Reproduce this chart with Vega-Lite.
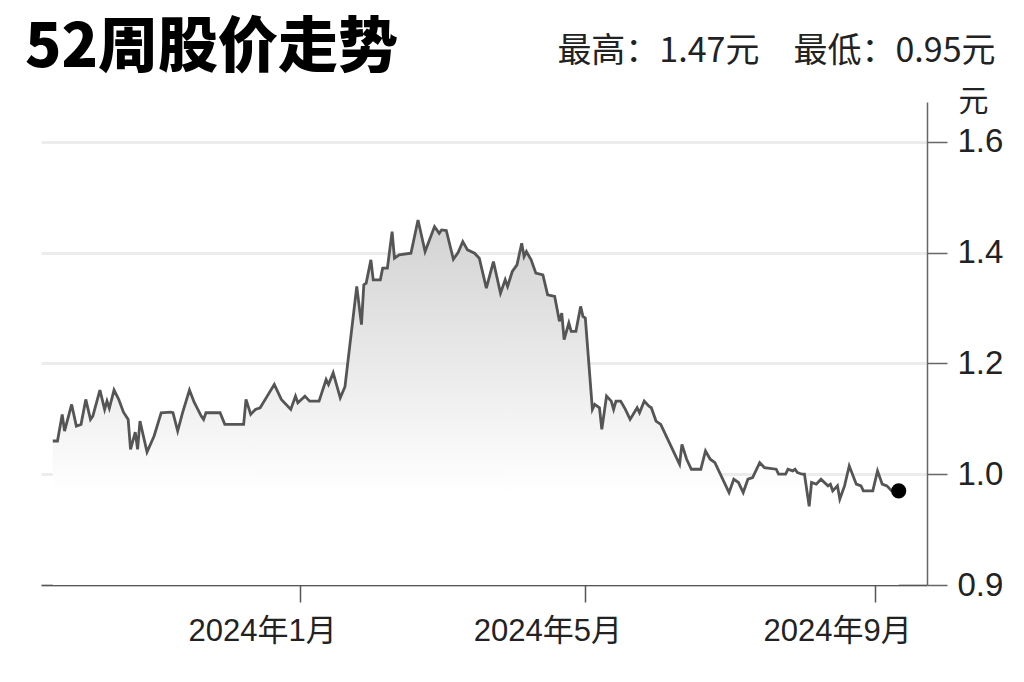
{
  "$schema": "https://vega.github.io/schema/vega-lite/v6.json",
  "width": 886,
  "height": 483,
  "autosize": {"type": "none"},
  "padding": {"left": 41, "top": 102, "right": 97, "bottom": 97},
  "background": "#ffffff",
  "title": {
    "text": "52周股价走势",
    "anchor": "start",
    "frame": "group",
    "font": "Noto Sans CJK SC",
    "fontSize": 60,
    "fontWeight": 900,
    "color": "#000000",
    "dx": -16,
    "dy": 93,
    "baseline": "alphabetic",
    "offset": 0
  },
  "config": {
    "view": {"stroke": null},
    "font": "Liberation Sans, Noto Sans CJK SC"
  },
  "datasets": {
    "prices": [
      {"date": "2023-09-18", "price": 1.06},
      {"date": "2023-09-20", "price": 1.06},
      {"date": "2023-09-22", "price": 1.108},
      {"date": "2023-09-23", "price": 1.078},
      {"date": "2023-09-26", "price": 1.126},
      {"date": "2023-09-28", "price": 1.087},
      {"date": "2023-09-30", "price": 1.09},
      {"date": "2023-10-02", "price": 1.135},
      {"date": "2023-10-04", "price": 1.099},
      {"date": "2023-10-05", "price": 1.105},
      {"date": "2023-10-08", "price": 1.152},
      {"date": "2023-10-10", "price": 1.117},
      {"date": "2023-10-11", "price": 1.132},
      {"date": "2023-10-12", "price": 1.119},
      {"date": "2023-10-14", "price": 1.152},
      {"date": "2023-10-16", "price": 1.135},
      {"date": "2023-10-18", "price": 1.112},
      {"date": "2023-10-20", "price": 1.099},
      {"date": "2023-10-21", "price": 1.045},
      {"date": "2023-10-23", "price": 1.076},
      {"date": "2023-10-24", "price": 1.045},
      {"date": "2023-10-25", "price": 1.096},
      {"date": "2023-10-28", "price": 1.04},
      {"date": "2023-10-31", "price": 1.069},
      {"date": "2023-11-03", "price": 1.111},
      {"date": "2023-11-07", "price": 1.112},
      {"date": "2023-11-08", "price": 1.111},
      {"date": "2023-11-10", "price": 1.078},
      {"date": "2023-11-12", "price": 1.11},
      {"date": "2023-11-15", "price": 1.152},
      {"date": "2023-11-17", "price": 1.13},
      {"date": "2023-11-20", "price": 1.105},
      {"date": "2023-11-21", "price": 1.099},
      {"date": "2023-11-22", "price": 1.111},
      {"date": "2023-11-28", "price": 1.111},
      {"date": "2023-11-30", "price": 1.09},
      {"date": "2023-12-08", "price": 1.09},
      {"date": "2023-12-09", "price": 1.135},
      {"date": "2023-12-11", "price": 1.108},
      {"date": "2023-12-13", "price": 1.117},
      {"date": "2023-12-15", "price": 1.12},
      {"date": "2023-12-18", "price": 1.141},
      {"date": "2023-12-21", "price": 1.162},
      {"date": "2023-12-24", "price": 1.135},
      {"date": "2023-12-28", "price": 1.117},
      {"date": "2023-12-30", "price": 1.141},
      {"date": "2023-12-31", "price": 1.129},
      {"date": "2024-01-03", "price": 1.141},
      {"date": "2024-01-05", "price": 1.132},
      {"date": "2024-01-09", "price": 1.132},
      {"date": "2024-01-12", "price": 1.171},
      {"date": "2024-01-13", "price": 1.162},
      {"date": "2024-01-15", "price": 1.183},
      {"date": "2024-01-18", "price": 1.138},
      {"date": "2024-01-20", "price": 1.158},
      {"date": "2024-01-25", "price": 1.339},
      {"date": "2024-01-27", "price": 1.27},
      {"date": "2024-01-28", "price": 1.342},
      {"date": "2024-01-29", "price": 1.345},
      {"date": "2024-01-31", "price": 1.387},
      {"date": "2024-02-01", "price": 1.351},
      {"date": "2024-02-04", "price": 1.351},
      {"date": "2024-02-05", "price": 1.372},
      {"date": "2024-02-07", "price": 1.372},
      {"date": "2024-02-09", "price": 1.438},
      {"date": "2024-02-10", "price": 1.39},
      {"date": "2024-02-12", "price": 1.396},
      {"date": "2024-02-17", "price": 1.399},
      {"date": "2024-02-20", "price": 1.459},
      {"date": "2024-02-23", "price": 1.402},
      {"date": "2024-02-27", "price": 1.447},
      {"date": "2024-02-29", "price": 1.435},
      {"date": "2024-03-01", "price": 1.441},
      {"date": "2024-03-03", "price": 1.44},
      {"date": "2024-03-06", "price": 1.388},
      {"date": "2024-03-08", "price": 1.4},
      {"date": "2024-03-10", "price": 1.42},
      {"date": "2024-03-12", "price": 1.405},
      {"date": "2024-03-15", "price": 1.399},
      {"date": "2024-03-17", "price": 1.39},
      {"date": "2024-03-20", "price": 1.336},
      {"date": "2024-03-23", "price": 1.384},
      {"date": "2024-03-26", "price": 1.327},
      {"date": "2024-03-28", "price": 1.351},
      {"date": "2024-03-29", "price": 1.339},
      {"date": "2024-03-31", "price": 1.366},
      {"date": "2024-04-02", "price": 1.378},
      {"date": "2024-04-04", "price": 1.417},
      {"date": "2024-04-05", "price": 1.393},
      {"date": "2024-04-06", "price": 1.402},
      {"date": "2024-04-08", "price": 1.387},
      {"date": "2024-04-10", "price": 1.363},
      {"date": "2024-04-13", "price": 1.36},
      {"date": "2024-04-15", "price": 1.324},
      {"date": "2024-04-18", "price": 1.321},
      {"date": "2024-04-20", "price": 1.276},
      {"date": "2024-04-21", "price": 1.291},
      {"date": "2024-04-22", "price": 1.243},
      {"date": "2024-04-24", "price": 1.273},
      {"date": "2024-04-25", "price": 1.258},
      {"date": "2024-04-27", "price": 1.258},
      {"date": "2024-04-29", "price": 1.303},
      {"date": "2024-04-30", "price": 1.285},
      {"date": "2024-05-01", "price": 1.282},
      {"date": "2024-05-04", "price": 1.117},
      {"date": "2024-05-05", "price": 1.126},
      {"date": "2024-05-07", "price": 1.12},
      {"date": "2024-05-08", "price": 1.081},
      {"date": "2024-05-10", "price": 1.141},
      {"date": "2024-05-12", "price": 1.132},
      {"date": "2024-05-13", "price": 1.117},
      {"date": "2024-05-14", "price": 1.132},
      {"date": "2024-05-16", "price": 1.132},
      {"date": "2024-05-18", "price": 1.117},
      {"date": "2024-05-20", "price": 1.099},
      {"date": "2024-05-23", "price": 1.12},
      {"date": "2024-05-24", "price": 1.111},
      {"date": "2024-05-26", "price": 1.132},
      {"date": "2024-05-28", "price": 1.123},
      {"date": "2024-05-29", "price": 1.12},
      {"date": "2024-05-31", "price": 1.096},
      {"date": "2024-06-02", "price": 1.09},
      {"date": "2024-06-04", "price": 1.072},
      {"date": "2024-06-06", "price": 1.054},
      {"date": "2024-06-08", "price": 1.036},
      {"date": "2024-06-10", "price": 1.018},
      {"date": "2024-06-11", "price": 1.054},
      {"date": "2024-06-13", "price": 1.027},
      {"date": "2024-06-15", "price": 1.009},
      {"date": "2024-06-19", "price": 1.009},
      {"date": "2024-06-21", "price": 1.042},
      {"date": "2024-06-23", "price": 1.027},
      {"date": "2024-06-25", "price": 1.021},
      {"date": "2024-06-27", "price": 1.003},
      {"date": "2024-06-29", "price": 0.985},
      {"date": "2024-07-01", "price": 0.967},
      {"date": "2024-07-03", "price": 0.991},
      {"date": "2024-07-05", "price": 0.985},
      {"date": "2024-07-07", "price": 0.967},
      {"date": "2024-07-09", "price": 0.991},
      {"date": "2024-07-11", "price": 0.994},
      {"date": "2024-07-14", "price": 1.021},
      {"date": "2024-07-16", "price": 1.012},
      {"date": "2024-07-21", "price": 1.009},
      {"date": "2024-07-22", "price": 1.0},
      {"date": "2024-07-25", "price": 1.0},
      {"date": "2024-07-26", "price": 1.009},
      {"date": "2024-07-28", "price": 1.006},
      {"date": "2024-07-29", "price": 1.009},
      {"date": "2024-07-30", "price": 1.003},
      {"date": "2024-08-01", "price": 1.0},
      {"date": "2024-08-02", "price": 1.0},
      {"date": "2024-08-04", "price": 0.942},
      {"date": "2024-08-05", "price": 0.985},
      {"date": "2024-08-07", "price": 0.982},
      {"date": "2024-08-09", "price": 0.991},
      {"date": "2024-08-12", "price": 0.979},
      {"date": "2024-08-13", "price": 0.982},
      {"date": "2024-08-14", "price": 0.97},
      {"date": "2024-08-16", "price": 0.979},
      {"date": "2024-08-17", "price": 0.955},
      {"date": "2024-08-19", "price": 0.979},
      {"date": "2024-08-21", "price": 1.015},
      {"date": "2024-08-24", "price": 0.982},
      {"date": "2024-08-26", "price": 0.979},
      {"date": "2024-08-27", "price": 0.97},
      {"date": "2024-08-31", "price": 0.97},
      {"date": "2024-09-02", "price": 1.006},
      {"date": "2024-09-04", "price": 0.982},
      {"date": "2024-09-06", "price": 0.979},
      {"date": "2024-09-08", "price": 0.97},
      {"date": "2024-09-11", "price": 0.97}
    ],
    "last": [
      {"date": "2024-09-11", "price": 0.97}
    ]
  },
  "encoding": {
    "x": {
      "field": "date",
      "type": "temporal",
      "scale": {
        "type": "utc",
        "domain": [
          {"year": 2023, "month": 9, "date": 13, "utc": true},
          {"year": 2024, "month": 9, "date": 23, "utc": true}
        ]
      },
      "axis": {
        "title": "最高：1.47元　最低：0.95元",
        "titleFont": "Noto Sans CJK SC",
        "titleFontSize": 34,
        "titleFontWeight": "normal",
        "titleColor": "#222222",
        "titleAlign": "right",
        "titleAnchor": "end",
        "titleBaseline": "alphabetic",
        "titleX": 954,
        "titleY": -524,
        "values": [
          {"year": 2024, "month": 1, "date": 1, "utc": true},
          {"year": 2024, "month": 5, "date": 1, "utc": true},
          {"year": 2024, "month": 9, "date": 1, "utc": true}
        ],
        "labelExpr": "utcFormat(datum.value, '%Y年%-m月')",
        "grid": false,
        "domainColor": "#555555",
        "domainWidth": 1.5,
        "tickColor": "#555555",
        "tickWidth": 1.5,
        "tickSize": 17,
        "labelFontSize": 31,
        "labelColor": "#222222",
        "labelPadding": 14,
        "labelOffset": -38,
        "labelFlush": false,
        "labelOverlap": false
      }
    },
    "y": {
      "field": "price",
      "type": "quantitative",
      "scale": {"domain": [0.8, 1.672], "zero": false, "nice": false},
      "axis": {
        "orient": "right",
        "values": [0.8, 1.0, 1.2, 1.4, 1.6],
        "labelExpr": "datum.value < 0.85 ? '0.9' : format(datum.value, '.1f')",
        "grid": true,
        "gridColor": "#ececec",
        "gridWidth": 3,
        "domainColor": "#666666",
        "domainWidth": 1.5,
        "tickColor": "#666666",
        "tickWidth": 1.5,
        "tickSize": 20,
        "labelFontSize": 33,
        "labelColor": "#222222",
        "labelPadding": 10,
        "labelBaseline": "middle",
        "labelFlush": false,
        "title": "元",
        "titleAngle": 0,
        "titleFont": "Noto Sans CJK SC",
        "titleFontSize": 30,
        "titleFontWeight": "normal",
        "titleColor": "#222222",
        "titleAlign": "left",
        "titleBaseline": "alphabetic",
        "titleX": 31,
        "titleY": 8
      }
    }
  },
  "layer": [
    {
      "data": {"name": "prices"},
      "mark": {
        "type": "area",
        "fill": {
          "x1": 0, "y1": 0, "x2": 0, "y2": 1,
          "gradient": "linear",
          "stops": [
            {"offset": 0, "color": "#d2d2d2"},
            {"offset": 0.75, "color": "#ffffff"}
          ]
        }
      },
      "encoding": {
        "y2": {"datum": 0.8}
      }
    },
    {
      "data": {"name": "prices"},
      "mark": {"type": "line", "color": "#555555", "strokeWidth": 2.8, "strokeJoin": "miter"}
    },
    {
      "data": {"name": "last"},
      "mark": {"type": "point", "filled": true, "color": "#000000", "size": 230, "opacity": 1}
    }
  ]
}
